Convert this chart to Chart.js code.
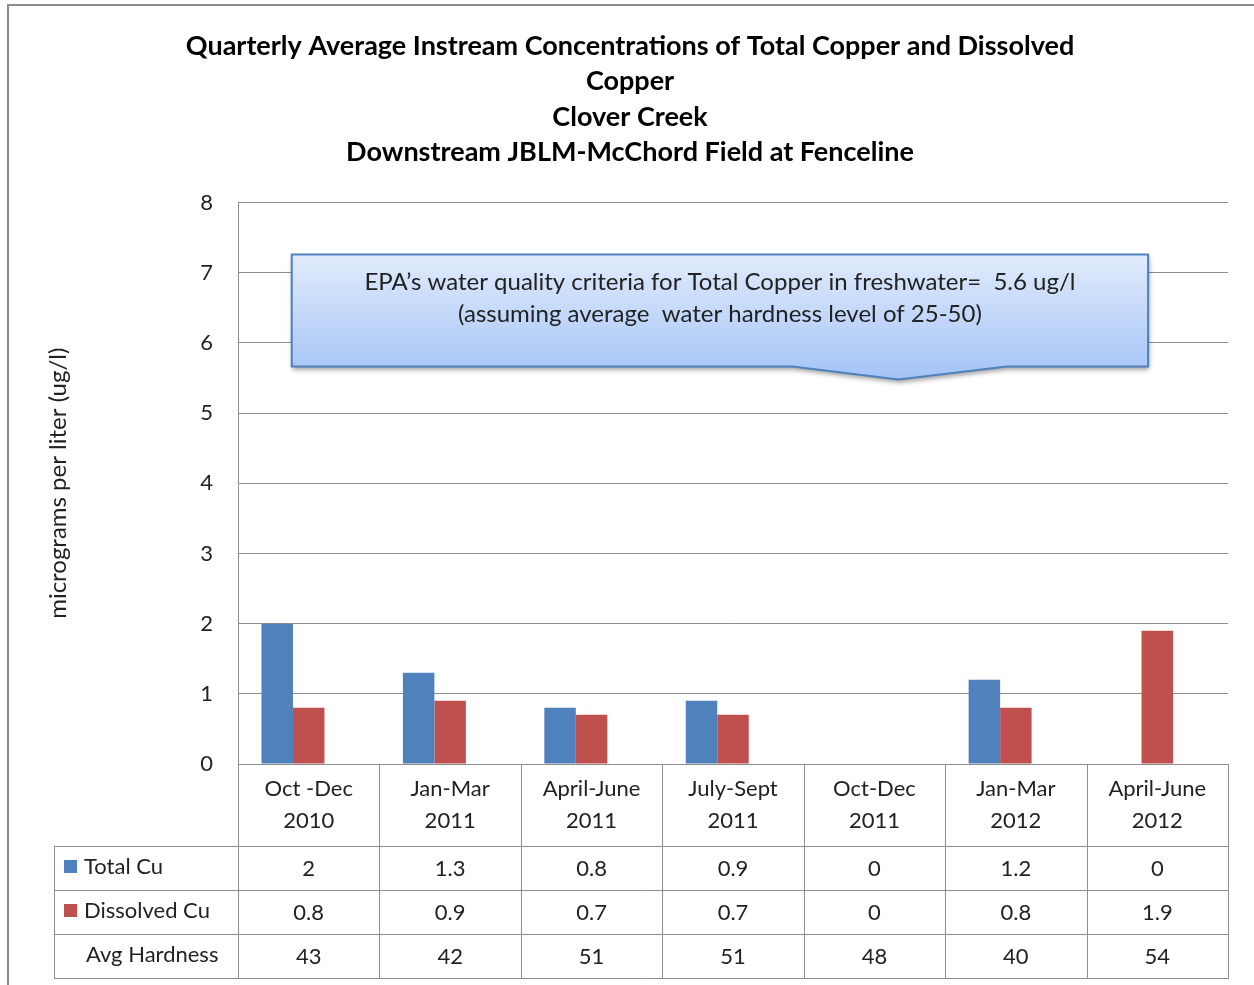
<!DOCTYPE html>
<html>
<head>
<meta charset="utf-8">
<script src="https://cdn.jsdelivr.net/npm/chart.js@4"></script>
<style>
    html, body { margin: 0; padding: 0; background: #fff; }
    #wrap { position: relative; width: 1254px; height: 985px; }
    #frame { position: absolute; left: 7px; top: 4px; right: -4px; bottom: -4px; border: 2px solid #8c8c8c; pointer-events: none; }
</style>
</head>
<body>
<div id="wrap">
    <canvas id="copperChart" width="1254" height="985"></canvas>
    <div id="frame"></div>
</div>
<script>
const FONT = 'Lato, "Open Sans", sans-serif';

const titleLines = [
    'Quarterly Average Instream Concentrations of Total Copper and Dissolved',
    'Copper',
    'Clover Creek',
    'Downstream JBLM-McChord Field at Fenceline'
];
const quarters = [
    ['Oct -Dec', '2010'],
    ['Jan-Mar', '2011'],
    ['April-June', '2011'],
    ['July-Sept', '2011'],
    ['Oct-Dec', '2011'],
    ['Jan-Mar', '2012'],
    ['April-June', '2012']
];
const totalCu = [2, 1.3, 0.8, 0.9, 0, 1.2, 0];
const dissolvedCu = [0.8, 0.9, 0.7, 0.7, 0, 0.8, 1.9];
const avgHardness = [43, 42, 51, 51, 48, 40, 54];
const yTicks = [0, 1, 2, 3, 4, 5, 6, 7, 8];
const yTitle = 'micrograms per liter (ug/l)';
const calloutText = [
    'EPA\u2019s water quality criteria for Total Copper in freshwater=  5.6 ug/l',
    '(assuming average  water hardness level of 25-50)'
];

const BLUE = '#4f81bd';
const RED = '#c0504d';
const GRID = '#8e8e8e';
const TEXT = '#222';

// callout anchor, in category index / y value units
const callout = { x0: -0.12, x1: 5.935, yTop: 7.26, yBottom: 5.665, baseX0: 3.42, baseX1: 4.935, tipX: 4.17, tipY: 5.48 };

const tableRows = [
    { label: 'Total Cu', color: BLUE, values: totalCu },
    { label: 'Dissolved Cu', color: RED, values: dissolvedCu },
    { label: 'Avg Hardness', color: null, values: avgHardness }
];

const calloutPlugin = {
    id: 'callout',
    afterDatasetsDraw(chart) {
        const { ctx, scales: { x, y } } = chart;
        const L = x.getPixelForValue(callout.x0), R = x.getPixelForValue(callout.x1);
        const T = y.getPixelForValue(callout.yTop), B = y.getPixelForValue(callout.yBottom);
        const b0 = x.getPixelForValue(callout.baseX0), b1 = x.getPixelForValue(callout.baseX1);
        const tx = x.getPixelForValue(callout.tipX), ty = y.getPixelForValue(callout.tipY);

        ctx.save();
        ctx.beginPath();
        ctx.moveTo(L, T);
        ctx.lineTo(R, T);
        ctx.lineTo(R, B);
        ctx.lineTo(b1, B);
        ctx.lineTo(tx, ty);
        ctx.lineTo(b0, B);
        ctx.lineTo(L, B);
        ctx.closePath();
        const grad = ctx.createLinearGradient(0, T, 0, ty);
        grad.addColorStop(0, '#e1ebfc');
        grad.addColorStop(1, '#a3c3f6');
        ctx.fillStyle = grad;
        ctx.shadowColor = 'rgba(0,0,0,0.4)';
        ctx.shadowBlur = 5;
        ctx.shadowOffsetX = 1;
        ctx.shadowOffsetY = 3;
        ctx.fill();
        ctx.shadowColor = 'transparent';
        ctx.lineWidth = 2;
        ctx.strokeStyle = BLUE;
        ctx.stroke();

        ctx.fillStyle = TEXT;
        ctx.font = '24px ' + FONT;
        ctx.textAlign = 'center';
        ctx.textBaseline = 'middle';
        const cx = (L + R) / 2;
        ctx.fillText(calloutText[0], cx, T + 28);
        ctx.fillText(calloutText[1], cx, T + 60);
        ctx.restore();
    }
};

const tablePlugin = {
    id: 'dataTable',
    afterDraw(chart) {
        const { ctx, chartArea, scales: { x } } = chart;
        const top = chartArea.bottom;
        const headerH = 82, rowH = 44;
        const tableLeft = 54;
        const right = x.getPixelForValue(quarters.length - 0.5);
        const bounds = quarters.map((q, i) => x.getPixelForValue(i - 0.5)).concat(right);
        const rowTops = [top + headerH, top + headerH + rowH, top + headerH + rowH * 2, top + headerH + rowH * 3];

        ctx.save();
        ctx.strokeStyle = GRID;
        ctx.lineWidth = 1;
        ctx.beginPath();
        bounds.forEach(bx => {
            ctx.moveTo(Math.round(bx) + 0.5, top);
            ctx.lineTo(Math.round(bx) + 0.5, rowTops[3]);
        });
        ctx.moveTo(tableLeft + 0.5, rowTops[0]);
        ctx.lineTo(tableLeft + 0.5, rowTops[3]);
        rowTops.forEach(ry => {
            ctx.moveTo(tableLeft, Math.round(ry) + 0.5);
            ctx.lineTo(right + 1, Math.round(ry) + 0.5);
        });
        ctx.stroke();

        ctx.font = '22px ' + FONT;
        ctx.fillStyle = TEXT;
        ctx.textAlign = 'center';
        ctx.textBaseline = 'middle';
        quarters.forEach((q, i) => {
            const cx = x.getPixelForValue(i);
            ctx.fillText(q[0], cx, top + 25);
            ctx.fillText(q[1], cx, top + 57);
        });

        tableRows.forEach((row, r) => {
            const midY = (rowTops[r] + rowTops[r + 1]) / 2;
            ctx.textAlign = 'left';
            if (row.color) {
                ctx.fillStyle = row.color;
                ctx.fillRect(64, midY - 8, 13, 13);
                ctx.fillStyle = TEXT;
                ctx.fillText(row.label, 84, midY - 1);
            } else {
                ctx.fillStyle = TEXT;
                ctx.fillText(row.label, 86, midY - 1);
            }
            ctx.textAlign = 'center';
            row.values.forEach((v, i) => {
                ctx.fillText(String(v), x.getPixelForValue(i), midY + 1);
            });
        });
        ctx.restore();
    }
};

const ctx = document.getElementById('copperChart').getContext('2d');
new Chart(ctx, {
    type: 'bar',
    data: {
        labels: quarters,
        datasets: [
            { label: 'Total Cu', data: totalCu, backgroundColor: BLUE },
            { label: 'Dissolved Cu', data: dissolvedCu, backgroundColor: RED },
            // empty slot: Excel leaves room for a third bar, so groups sit left of centre
            { label: '', data: quarters.map(() => null), backgroundColor: 'transparent' }
        ]
    },
    options: {
        responsive: false,
        animation: false,
        events: [],
        layout: { padding: { left: 32, top: 0, right: 26, bottom: 7 } },
        datasets: { bar: { categoryPercentage: 0.668, barPercentage: 1.0 } },
        plugins: {
            legend: { display: false },
            tooltip: { enabled: false },
            title: {
                display: true,
                text: titleLines,
                color: '#000',
                font: { family: FONT, size: 27, weight: 'bold', lineHeight: 1.32 },
                padding: { top: 28, bottom: 32 }
            }
        },
        scales: {
            x: {
                grid: { display: false },
                border: { display: false },
                ticks: { display: false },
                afterFit(scale) { scale.height = 214; }
            },
            y: {
                min: 0,
                max: 8,
                afterBuildTicks(scale) { scale.ticks = yTicks.map(v => ({ value: v })); },
                afterFit(scale) { scale.width = 238 - 32; },
                grid: { color: GRID, drawTicks: false, lineWidth: 1 },
                border: { display: true, color: GRID },
                ticks: { color: TEXT, padding: 25, font: { family: FONT, size: 22 } },
                title: {
                    display: true,
                    text: yTitle,
                    color: TEXT,
                    font: { family: FONT, size: 24 },
                    padding: { top: 12, bottom: 0 }
                }
            }
        }
    },
    plugins: [calloutPlugin, tablePlugin]
});
</script>
</body>
</html>
